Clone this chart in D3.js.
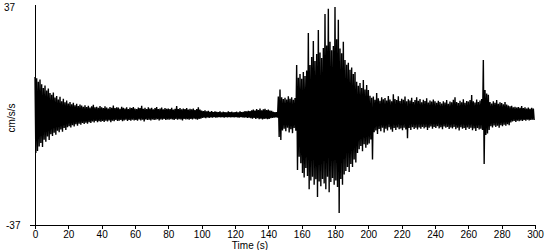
<!DOCTYPE html>
<html>
<head>
<meta charset="utf-8">
<script src="https://cdn.jsdelivr.net/npm/d3@7"></script>
<style>
  body { margin: 0; background: #fff; }
  svg { display: block; }
  .lbl { font-family: Arial, "Liberation Sans", sans-serif; font-size: 10px; fill: #000; }
</style>
</head>
<body>
<div id="chart"></div>
<script>
// per-second upper and lower peaks of the record (cm/s/s), t = 0..299 s
const peakHigh = [
  12.8, 12.4, 11.2, 11.9, 10.3, 9.1, 9.9, 8.2, 8.9, 7.4,
  6.8, 7.6, 5.9, 6.4, 5.2, 6.1, 4.6, 5.5, 4.3, 4.9,
  3.9, 4.4, 3.6, 4.1, 3.3, 3.8, 3.0, 3.5, 3.2, 2.8,
  3.3, 2.7, 3.1, 2.5, 2.9, 3.4, 2.6, 2.8, 2.4, 3.0,
  2.6, 2.3, 2.9, 2.5, 2.2, 2.7, 2.4, 3.2, 2.3, 2.6,
  2.5, 2.1, 2.8, 2.4, 2.2, 2.6, 2.0, 2.5, 2.3, 2.7,
  2.2, 2.0, 2.5, 2.3, 3.1, 2.1, 2.4, 2.0, 2.6, 2.2,
  2.4, 1.9, 2.3, 2.7, 2.0, 2.2, 2.5, 1.9, 2.3, 2.1,
  2.2, 2.0, 2.4, 1.8, 2.1, 3.0, 2.0, 2.3, 1.9, 2.2,
  2.0, 2.3, 1.8, 2.1, 1.9, 2.2, 1.7, 2.0, 2.6, 1.8,
  1.5, 1.3, 1.6, 1.2, 1.4, 1.1, 1.3, 1.0, 1.2, 1.1,
  1.0, 1.2, 0.9, 1.1, 1.0, 0.9, 1.2, 1.0, 1.1, 0.9,
  1.0, 1.1, 0.9, 1.2, 1.0, 1.1, 1.3, 1.2, 1.4, 1.3,
  1.6, 1.8, 1.5, 2.0, 1.7, 2.2, 1.6, 1.9, 2.1, 1.7,
  1.8, 1.5, 1.4, 1.1, 1.0, 1.0, 6.2, 8.6, 6.0, 5.4,
  5.8, 5.2, 6.3, 5.5, 6.0, 5.1, 5.7, 16.8, 12.5, 13.8,
  12.2, 14.5, 13.1, 15.0, 27.6, 16.8, 19.5, 24.9, 18.2, 20.5,
  28.6, 21.0, 19.2, 22.5, 34.0, 23.4, 35.7, 24.6, 21.8, 23.2,
  36.3, 25.5, 32.0, 22.4, 20.8, 24.6, 18.5, 16.9, 17.6, 15.2,
  16.0, 13.8, 14.5, 11.2, 9.8, 10.8, 9.1, 11.8, 8.6, 10.1,
  8.4, 6.5, 5.8, 6.2, 5.1, 7.4, 5.6, 4.8, 6.0, 5.3,
  5.7, 4.9, 6.4, 5.2, 4.6, 7.0, 5.4, 5.0, 6.3, 4.7,
  5.5, 5.1, 6.2, 4.6, 5.3, 4.9, 5.8, 4.4, 5.0, 6.0,
  4.8, 5.4, 4.3, 5.1, 4.7, 5.6, 4.2, 4.9, 4.5, 5.2,
  4.6, 4.1, 4.8, 4.4, 3.9, 4.6, 4.2, 5.0, 3.8, 4.5,
  4.3, 5.1, 6.0, 4.4, 4.0, 4.8, 4.3, 5.3, 4.1, 4.7,
  4.5, 5.0, 6.7, 4.6, 4.2, 5.2, 4.4, 4.9, 5.4, 18.5,
  8.4, 7.2, 6.8, 4.4, 3.9, 4.6, 4.1, 5.0, 3.8, 4.3,
  4.0, 3.6, 4.4, 3.5, 3.2, 2.9, 3.1, 2.6, 2.8, 2.5,
  2.7, 2.4, 3.0, 2.3, 2.6, 2.2, 2.5, 2.1, 2.4, 2.2
]

const peakLow = [
  -12.8, -12.1, -10.6, -9.4, -10.8, -8.3, -9.0, -7.2, -8.4, -6.5,
  -7.1, -6.0, -6.6, -5.3, -5.8, -4.9, -5.6, -4.4, -5.0, -4.1,
  -3.8, -4.2, -3.4, -3.9, -3.1, -3.6, -2.9, -3.3, -2.7, -3.0,
  -2.6, -2.9, -2.4, -2.7, -2.2, -2.5, -2.0, -2.4, -2.1, -2.3,
  -2.0, -2.3, -1.9, -2.2, -1.8, -2.4, -1.9, -2.1, -1.7, -2.0,
  -1.9, -1.7, -2.1, -1.8, -1.6, -2.0, -1.7, -1.9, -1.6, -1.8,
  -1.7, -1.9, -1.5, -1.8, -1.6, -2.2, -1.5, -1.7, -1.6, -1.8,
  -1.5, -1.7, -1.6, -1.4, -1.8, -1.5, -1.6, -1.3, -1.7, -1.5,
  -1.6, -1.4, -1.5, -1.7, -1.3, -1.6, -1.4, -1.5, -1.8, -1.3,
  -1.5, -1.4, -1.6, -1.3, -1.5, -1.2, -1.4, -1.6, -1.3, -1.2,
  -1.0, -0.9, -1.1, -0.8, -1.0, -0.8, -0.9, -0.7, -0.9, -0.8,
  -0.7, -0.8, -0.7, -0.9, -0.7, -0.8, -0.7, -0.8, -0.7, -0.8,
  -0.7, -0.8, -0.9, -0.7, -0.8, -0.9, -0.8, -1.0, -0.9, -1.1,
  -1.2, -1.0, -1.3, -1.1, -1.4, -1.2, -1.5, -1.3, -1.2, -1.4,
  -1.3, -1.1, -1.0, -0.9, -0.8, -0.9, -7.4, -8.4, -5.2, -4.6,
  -5.5, -4.3, -5.9, -4.8, -6.1, -4.4, -5.3, -18.5, -14.0, -16.2,
  -19.5, -21.0, -17.8, -20.5, -25.0, -22.0, -20.8, -23.5, -21.6, -27.6,
  -22.4, -24.0, -21.5, -23.0, -25.0, -20.8, -26.0, -22.5, -21.2, -23.5,
  -22.0, -24.2, -33.0, -21.5, -23.5, -20.0, -18.8, -17.5, -19.2, -16.5,
  -17.5, -15.0, -16.0, -12.8, -11.5, -10.4, -12.2, -9.8, -11.0, -10.0,
  -9.6, -8.2, -15.0, -5.8, -5.2, -6.4, -4.7, -5.5, -4.3, -5.9,
  -4.6, -5.2, -4.1, -4.9, -5.6, -4.4, -5.0, -4.2, -4.8, -4.5,
  -5.1, -4.3, -4.9, -7.8, -4.4, -5.0, -4.1, -4.7, -4.3, -4.9,
  -4.2, -4.6, -4.0, -4.5, -4.1, -5.0, -4.3, -3.9, -4.6, -4.0,
  -4.4, -3.8, -4.5, -4.1, -4.8, -3.9, -4.3, -4.0, -4.7, -4.2,
  -4.5, -4.0, -4.8, -4.3, -5.2, -4.1, -4.6, -4.4, -5.0, -4.2,
  -4.7, -4.3, -5.1, -4.5, -5.4, -4.4, -4.9, -4.6, -5.0, -16.5,
  -6.7, -6.2, -5.0, -3.8, -4.2, -3.5, -4.0, -3.6, -4.3, -3.4,
  -3.8, -3.3, -3.6, -3.1, -3.4, -2.5, -2.2, -2.0, -2.3, -1.9,
  -2.1, -1.8, -2.0, -1.7, -1.9, -1.6, -1.8, -1.7, -1.6, -1.7
]

const timeTicks = [0, 20, 40, 60, 80, 100, 120, 140, 160, 180, 200, 220, 240, 260, 280, 300]
const yLimits = [-37, 37]
const xLabel = "Time (s)"
const yLabel = "cm/s/s"

var width = 550, height = 250

let svg = d3.select("#chart")
    .append("svg")
    .attr("width", width)
    .attr("height", height)

let xScale = d3.scaleLinear()
    .domain([0, 300])
    .range([35, 535])

let yScale = d3.scaleLinear()
    .domain(yLimits)
    .range([225, 5])

// trace: swing from the upper peak to the lower peak within each second
let points = []
peakHigh.forEach(function (v, i) {
    points.push([i, v])
    points.push([i + 0.5, peakLow[i]])
})

svg.append("path")
    .datum(points)
    .attr("fill", "none")
    .attr("stroke", "#000")
    .attr("stroke-width", 1.4)
    .attr("stroke-linejoin", "miter")
    .attr("stroke-miterlimit", 1)
    .attr("d", d3.line()
        .x(function (d) { return xScale(d[0]) })
        .y(function (d) { return yScale(d[1]) }))

// axes
let xAxis = svg.append("g")
    .attr("transform", "translate(0," + yScale(yLimits[0]) + ")")
    .call(d3.axisBottom(xScale).tickValues(timeTicks).tickSize(4).tickSizeOuter(0).tickPadding(2))

xAxis.select(".domain").remove()
xAxis.selectAll("line").attr("stroke", "#000").attr("shape-rendering", "crispEdges")
xAxis.selectAll("text")
    .attr("class", "lbl")
    .attr("font-family", null)
    .attr("font-size", null)

svg.append("line")
    .attr("x1", xScale(0) - 5)
    .attr("x2", xScale(300))
    .attr("y1", yScale(yLimits[0]))
    .attr("y2", yScale(yLimits[0]))
    .attr("stroke", "#000")
    .attr("shape-rendering", "crispEdges")

svg.append("line")
    .attr("x1", xScale(0))
    .attr("x2", xScale(0))
    .attr("y1", yScale(yLimits[1]))
    .attr("y2", yScale(yLimits[0]))
    .attr("stroke", "#000")
    .attr("shape-rendering", "crispEdges")

svg.append("text")
    .attr("class", "lbl")
    .attr("x", 4)
    .attr("y", yScale(yLimits[1]) + 6)
    .text(yLimits[1])

svg.append("text")
    .attr("class", "lbl")
    .attr("x", 6)
    .attr("y", yScale(yLimits[0]) + 4)
    .text(yLimits[0])

svg.append("text")
    .attr("class", "lbl")
    .attr("text-anchor", "middle")
    .attr("x", 250)
    .attr("y", 249)
    .text(xLabel)

svg.append("text")
    .attr("class", "lbl")
    .attr("text-anchor", "middle")
    .attr("transform", "translate(15,118) rotate(-90)")
    .text(yLabel)
</script>
</body>
</html>
